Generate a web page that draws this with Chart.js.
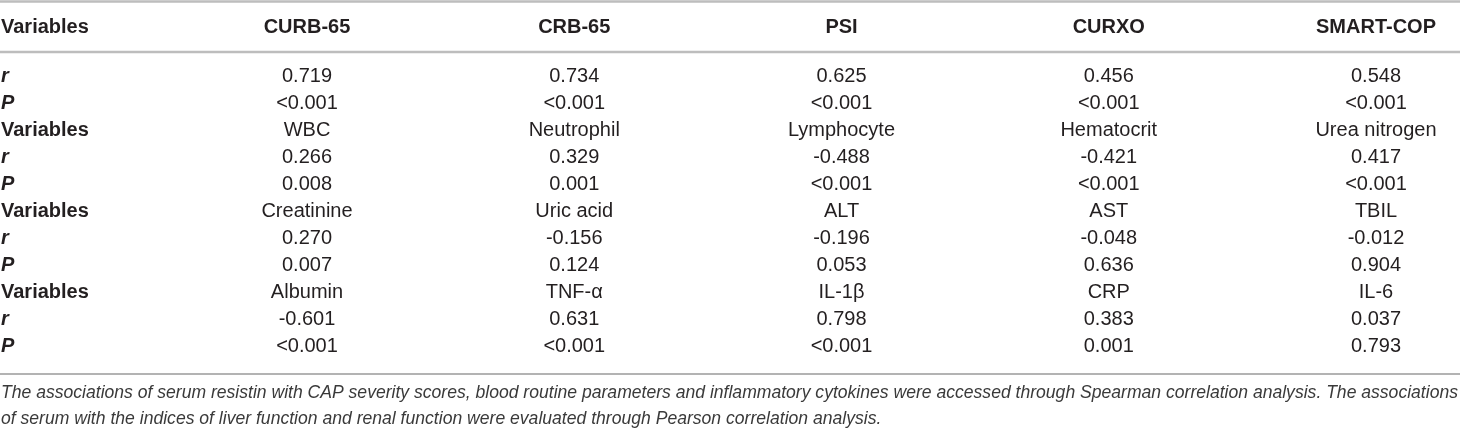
<!DOCTYPE html>
<html>
<head>
<meta charset="utf-8">
<script src="https://cdn.jsdelivr.net/npm/chart.js@4/dist/chart.umd.min.js"></script>
<style>
  html, body { margin: 0; padding: 0; background: #fff; }
  #wrap { width: 1460px; height: 431px; position: relative; }
</style>
</head>
<body>
<div id="wrap"><canvas id="c" width="1460" height="431"></canvas></div>
<script>
// ---- data ----
const headerLabel = 'Variables';
const columnHeaders = ['CURB-65', 'CRB-65', 'PSI', 'CURXO', 'SMART-COP'];
const rowLabels = ['r', 'P', 'Variables', 'r', 'P', 'Variables', 'r', 'P', 'Variables', 'r', 'P'];

const rValues1 = [0.719, 0.734, 0.625, 0.456, 0.548];
const pValues1 = ['<0.001', '<0.001', '<0.001', '<0.001', '<0.001'];

const variables2 = ['WBC', 'Neutrophil', 'Lymphocyte', 'Hematocrit', 'Urea nitrogen'];
const rValues2 = [0.266, 0.329, -0.488, -0.421, 0.417];
const pValues2 = ['0.008', '0.001', '<0.001', '<0.001', '<0.001'];

const variables3 = ['Creatinine', 'Uric acid', 'ALT', 'AST', 'TBIL'];
const rValues3 = [0.270, -0.156, -0.196, -0.048, -0.012];
const pValues3 = ['0.007', '0.124', '0.053', '0.636', '0.904'];

const variables4 = ['Albumin', 'TNF-\u03b1', 'IL-1\u03b2', 'CRP', 'IL-6'];
const rValues4 = [-0.601, 0.631, 0.798, 0.383, 0.037];
const pValues4 = ['<0.001', '<0.001', '<0.001', '0.001', '0.793'];

const captionLine1 = 'The associations of serum resistin with CAP severity scores, blood routine parameters and inflammatory cytokines were accessed through Spearman correlation analysis. The associations';
const captionLine2 = 'of serum with the indices of liver function and renal function were evaluated through Pearson correlation analysis.';

// ---- build the table body from the arrays ----
const fmt = v => v.toFixed(3);
const tableRows = [
  rValues1.map(fmt), pValues1,
  variables2, rValues2.map(fmt), pValues2,
  variables3, rValues3.map(fmt), pValues3,
  variables4, rValues4.map(fmt), pValues4
];

const FAMILY = '"Liberation Sans", Arial, Helvetica, sans-serif';
const TEXT = '#231f20';
const FS = 20;
const HEAD_PAD = 24;

const tablePlugin = {
  id: 'tablePlugin',
  afterDraw(chart) {
    const ctx = chart.ctx;
    const xs = chart.scales.x, ys = chart.scales.y;
    const W = chart.width;
    ctx.save();
    // cells
    ctx.fillStyle = TEXT;
    ctx.font = `${FS}px ${FAMILY}`;
    ctx.textAlign = 'center';
    ctx.textBaseline = 'middle';
    tableRows.forEach((row, ri) => {
      row.forEach((txt, ci) => {
        ctx.fillText(txt, xs.getPixelForValue(ci), ys.getPixelForValue(ri));
      });
    });
    // header label of first column
    ctx.font = `bold ${FS}px ${FAMILY}`;
    ctx.textAlign = 'left';
    const headerY = xs.bottom - HEAD_PAD - FS * 1.2 / 2;
    ctx.fillText(headerLabel, 1, headerY);
    // rules
    ctx.strokeStyle = '#bdbdbd';
    ctx.lineWidth = 2.5;
    ctx.beginPath(); ctx.moveTo(0, 1.5); ctx.lineTo(W, 1.5); ctx.stroke();
    ctx.beginPath(); ctx.moveTo(0, 52); ctx.lineTo(W, 52); ctx.stroke();
    ctx.strokeStyle = '#9a9a9a';
    ctx.lineWidth = 1.5;
    const bottomY = ys.bottom + 13.5;
    ctx.beginPath(); ctx.moveTo(0, bottomY); ctx.lineTo(W, bottomY); ctx.stroke();
    // caption
    ctx.fillStyle = '#3a3a3a';
    let cs = 17.8;
    ctx.font = `italic ${cs}px ${FAMILY}`;
    const avail = W - 3;
    let natural = ctx.measureText(captionLine1).width;
    if (natural > avail) {
      cs = cs * avail / natural;
      ctx.font = `italic ${cs}px ${FAMILY}`;
    }
    ctx.textBaseline = 'middle';
    const words = captionLine1.split(' ');
    const wordsW = words.reduce((s, w) => s + ctx.measureText(w).width, 0);
    const gap = (avail - wordsW) / (words.length - 1);
    let x = 1;
    const y1 = bottomY + 19, y2 = bottomY + 45;
    words.forEach(w => { ctx.fillText(w, x, y1); x += ctx.measureText(w).width + gap; });
    ctx.fillText(captionLine2, 1, y2);
    ctx.restore();
  }
};

new Chart(document.getElementById('c'), {
  type: 'scatter',
  data: { datasets: [{ data: [], pointRadius: 0 }] },
  plugins: [tablePlugin],
  options: {
    responsive: false,
    animation: false,
    events: [],
    layout: { padding: { left: 1, right: 63, top: 0, bottom: 70.5 } },
    plugins: { legend: { display: false }, tooltip: { enabled: false } },
    scales: {
      x: {
        type: 'category',
        labels: columnHeaders,
        position: 'top',
        offset: false,
        grid: { display: false, drawTicks: false },
        border: { display: false },
        ticks: {
          color: TEXT,
          padding: HEAD_PAD,
          autoSkip: false,
          maxRotation: 0,
          font: { family: FAMILY, size: FS, weight: 'bold' }
        },
        afterFit(scale) { scale.height = 63; }
      },
      y: {
        type: 'category',
        labels: rowLabels,
        offset: true,
        grid: { display: false, drawTicks: false },
        border: { display: false },
        ticks: {
          color: TEXT,
          crossAlign: 'far',
          autoSkip: false,
          padding: 0,
          font: (c) => ({
            family: FAMILY, size: FS, weight: 'bold',
            style: rowLabels[c.index] === 'Variables' ? 'normal' : 'italic'
          })
        },
        afterFit(scale) { scale.width = 306; }
      }
    }
  }
});
</script>
</body>
</html>
